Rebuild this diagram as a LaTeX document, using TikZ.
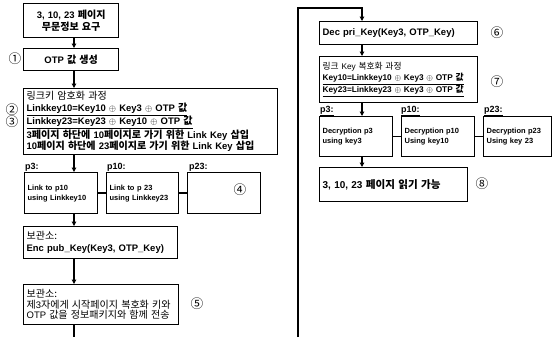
\documentclass[tikz,border=0pt]{standalone}
\usepackage{fontspec}
\setmainfont{Liberation Sans}
\newfontfamily\krfont{Noto Sans CJK KR}[Scale=1.06, WordSpace=2.5]
\newcommand{\kr}[1]{{\krfont #1}}
\usepackage{tikz}
\usetikzlibrary{arrows.meta}

\begin{document}
\begin{tikzpicture}[x=1bp, y=-1bp,
   txt/.style={font=\bfseries\fontsize{9.5}{11.7}\selectfont},
   thin/.style={font=\mdseries\fontsize{9.5}{10.5}\selectfont},
   tiny/.style={font=\bfseries\fontsize{7.5}{10}\selectfont}]
\useasboundingbox (0,0) rectangle (553,337);

% left column: encryption side
\begin{scope}[every node/.style={draw, line width=1.3bp, anchor=north west, align=left, inner xsep=3bp, inner ysep=1bp, txt}]
   \node[align=center, text width=89bp, minimum height=34bp] (req) at (23,3) {3, 10, 23 \kr{페이지}\\\kr{무문정보 요구}};
   \node[align=center, text width=89bp, minimum height=22bp] (otp) at (23,48) {OTP \kr{값 생성}};
   \node[text width=248bp, minimum height=66bp] (lenc) at (23,88) {\kr{\mdseries 링크키 암호화 과정}\\
      \underline{Linkkey10=Key10 $\oplus$ Key3 $\oplus$ OTP \kr{값}}\\
      \underline{Linkkey23=Key23 $\oplus$ Key10 $\oplus$ OTP \kr{값}}\\
      3\kr{페이지 하단에 }10\kr{페이지로 가기 위한 }Link Key \kr{삽입}\\
      10\kr{페이지 하단에 }23\kr{페이지로 가기 위한 }Link Key \kr{삽입}};
   \node[tiny, text width=67bp, minimum height=41bp] (lp3) at (24,172) {Link to p10\\using Linkkey10};
   \node[tiny, text width=66bp, minimum height=41bp] (lp10) at (106,172) {Link to p 23\\using Linkkey23};
   \node[tiny, text width=67bp, minimum height=41bp] (lp23) at (187,172) {};
   \node[text width=148bp, minimum height=32bp] (st1) at (23,226) {\kr{\mdseries 보관소:}\\Enc pub\_Key(Key3, OTP\_Key)};
   \node[thin, text width=149bp, minimum height=40bp] (st2) at (23,284) {\kr{보관소:}\\\kr{제}3\kr{자에게 시작페이지 복호화 키와}\\OTP \kr{값을 정보패키지와 함께 전송}};
\end{scope}

% right column: decryption side
\begin{scope}[every node/.style={draw, line width=1.3bp, anchor=north west, align=left, inner xsep=3bp, inner ysep=1bp, txt}]
   \node[text width=152bp, minimum height=23bp] (dec) at (319,21) {Dec pri\_Key(Key3, OTP\_Key)};
   \node[font=\bfseries\fontsize{8.3}{11}\selectfont, text width=152bp, minimum height=46bp] (dkey) at (319,56) {\kr{\mdseries 링크} \textmd{Key} \kr{\mdseries 복호화 과정}\\
      \underline{Key10=Linkkey10 $\oplus$ Key3 $\oplus$ OTP \kr{값}}\\
      \underline{Key23=Linkkey23 $\oplus$ Key3 $\oplus$ OTP \kr{값}}};
   \node[tiny, text width=67bp, minimum height=40bp] (rp3) at (319,116) {Decryption p3\\using key3};
   \node[tiny, text width=67bp, minimum height=40bp] (rp10) at (401,116) {Decryption p10\\Using key10};
   \node[tiny, text width=62bp, minimum height=40bp] (rp23) at (483,116) {Decryption p23\\Using key 23};
   \node[font=\bfseries\fontsize{10}{12}\selectfont, text width=142bp, minimum height=34bp] (read) at (319,167) {3, 10, 23 \kr{페이지 읽기 가능}};
\end{scope}

% step numbers
\begin{scope}[every node/.style={inner sep=0pt, font=\krfont\fontsize{12}{12}\selectfont}]
   \node (n1) at (15,59) {①};
   \node (n2) at (12,110) {②};
   \node (n3) at (12,122) {③};
   \node (n4) at (240,190) {④};
   \node (n5) at (197,304) {⑤};
   \node (n6) at (497,33) {⑥};
   \node (n7) at (497,82) {⑦};
   \node (n8) at (482,184) {⑧};
\end{scope}

% page labels
\begin{scope}[every node/.style={anchor=base west, inner sep=0pt, font=\bfseries\fontsize{9}{9}\selectfont}]
   \node (lp3t) at (25,169) {\underline{p3:}};
   \node (lp10t) at (107,169) {\underline{p10:}};
   \node (lp23t) at (189,169) {\underline{p23:}};
   \node (rp3t) at (320,112) {\underline{p3:}};
   \node (rp10t) at (401,112) {\underline{p10:}};
   \node (rp23t) at (484,112) {\underline{p23:}};
\end{scope}

\coordinate (lx) at (74,0);
\coordinate (rx) at (362,0);
\coordinate (lbot) at (74,337);
\coordinate (rbot) at (298,337);
\coordinate (rtop) at (298,8);

\begin{scope}[every edge/.style={draw, line width=1.6bp}, >={Triangle[length=4.5bp,width=4.5bp]}]
   \path [->] (req.south -| lx) edge (otp.north -| lx);
   \path [->] (otp.south -| lx) edge (lenc.north -| lx);
   \path [->] (lenc.south -| lx) edge (lp3.north -| lx);
   \path [->] (lp3.south -| lx) edge (st1.north -| lx);
   \path [->] (st1.south -| lx) edge (st2.north -| lx);
   \path (st2.south -| lx) edge (lbot);
   \path (lp3) edge (lp10);
   \path (lp10) edge (lp23);

   \draw [->, line width=1.6bp] (rbot) -- (rtop) -| (dec.north -| rx);
   \path [->] (dec.south -| rx) edge (dkey.north -| rx);
   \path [->] (dkey.south -| rx) edge (rp3.north -| rx);
   \path [->] (rp3.south -| rx) edge (read.north -| rx);
   \path (rp3) edge (rp10);
   \path (rp10) edge (rp23);
\end{scope}
\end{tikzpicture}
\end{document}
